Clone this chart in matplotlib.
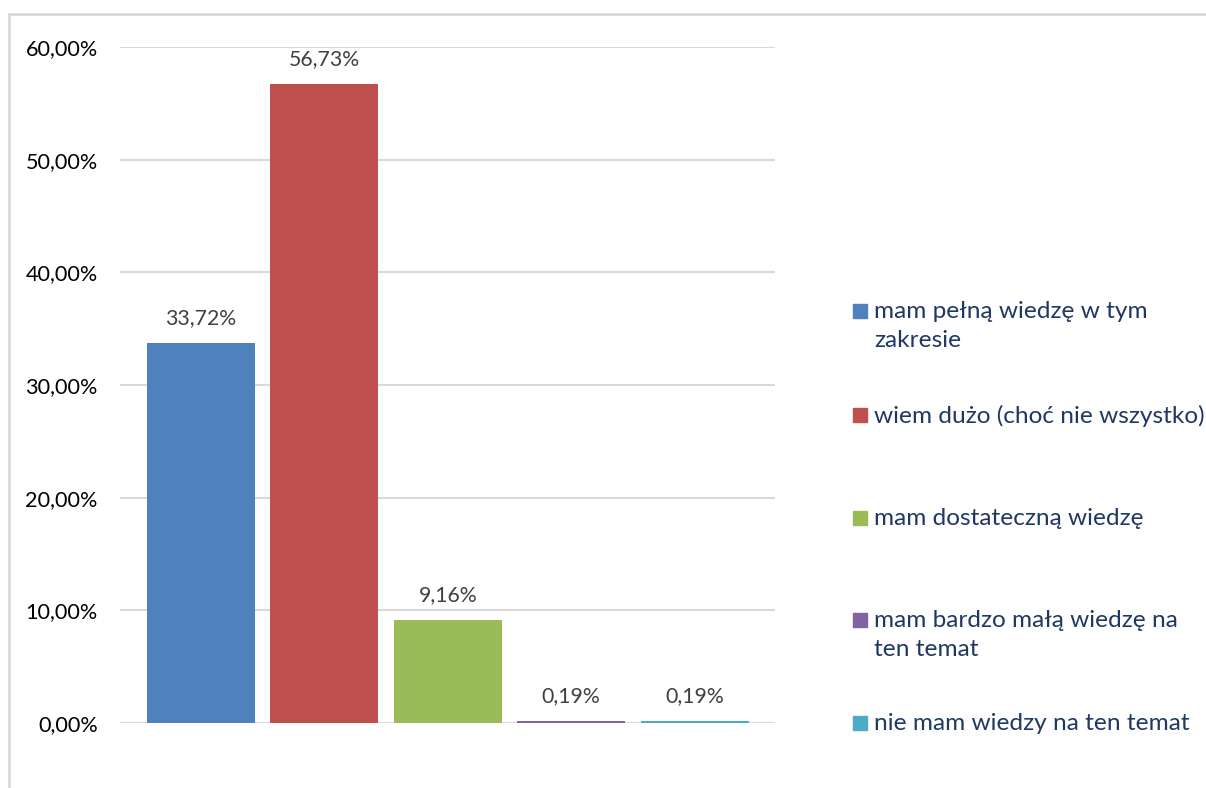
import matplotlib
matplotlib.use("Agg")

import matplotlib.pyplot as plt
from matplotlib.lines import Line2D
from matplotlib.patches import Rectangle
from matplotlib.ticker import FuncFormatter

# ── data ─────────────────────────────────────────────────────────────────────
CATEGORIES = [
    "mam pełną wiedzę w tym\nzakresie",
    "wiem dużo (choć nie wszystko)",
    "mam dostateczną wiedzę",
    "mam bardzo małą wiedzę na\nten temat",
    "nie mam wiedzy na ten temat",
]
VALUES = [33.72, 56.73, 9.16, 0.19, 0.19]
COLORS = ["#4F81BD", "#C0504D", "#9BBB59", "#8064A2", "#4BACC6"]
Y_TICKS = [0, 10, 20, 30, 40, 50, 60]

# ── style ────────────────────────────────────────────────────────────────────
plt.rcParams.update({
    "font.family": ["Lato", "DejaVu Sans"],
    "font.size": 15.5,
})

W, H = 1206, 788
fig = plt.figure(figsize=(W / 100, H / 100), dpi=100)
ax = fig.add_axes([120 / W, 65 / H, 655 / W, 676 / H])

xs = list(range(len(VALUES)))
bars = ax.bar(xs, VALUES, width=0.875, color=COLORS, zorder=3)

for b, v in zip(bars, VALUES):
    ax.annotate(f"{v:.2f}%".replace(".", ","),
                (b.get_x() + b.get_width() / 2, v),
                xytext=(0, 10.5), textcoords="offset points",
                ha="center", va="bottom", fontsize=15.3, color="#404040")

ax.set_xlim(-0.656, 4.652)
ax.set_ylim(0, 60)
ax.set_yticks(Y_TICKS)
ax.yaxis.set_major_formatter(
    FuncFormatter(lambda v, _: f"{v:.2f}%".replace(".", ",")))
ax.tick_params(axis="y", length=0, pad=16, labelsize=15.6, labelcolor="#000000")
ax.set_xticks([])
ax.grid(axis="y", color="#D9D9D9", lw=1.5, zorder=0)
for s in ax.spines.values():
    s.set_visible(False)

# ── legend (manual, Excel-like) ──────────────────────────────────────────────
LEG_Y = [311, 415, 518, 620, 723]   # first-line centre, pixels from top
for lab, col, yp in zip(CATEGORIES, COLORS, LEG_Y):
    fig.patches.append(Rectangle((853 / W, 1 - (yp + 7) / H), 14 / W, 14 / H,
                                 transform=fig.transFigure, color=col))
    fig.text(874 / W, 1 - (yp - 10) / H, lab, ha="left", va="top",
             fontsize=17.6, color="#1F3864", linespacing=1.47)

# ── outer chart frame ────────────────────────────────────────────────────────
fig.add_artist(Line2D([9 / W, 9 / W], [0, 1 - 14 / H], transform=fig.transFigure,
                      color="#D9D9D9", lw=2))
fig.add_artist(Line2D([9 / W, 1], [1 - 14 / H, 1 - 14 / H], transform=fig.transFigure,
                      color="#D9D9D9", lw=2))

fig.savefig("out.png", dpi=100)
